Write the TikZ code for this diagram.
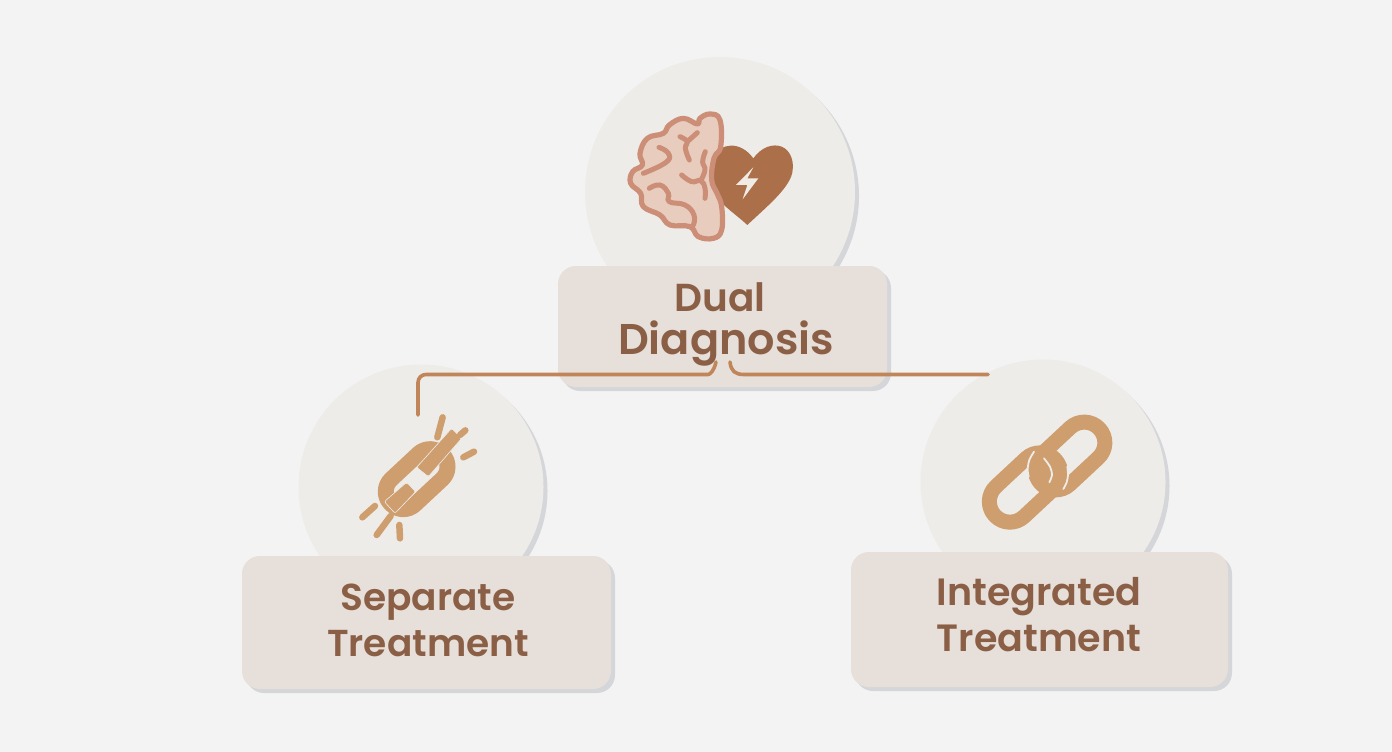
\documentclass[tikz,border=0pt]{standalone}
\usepackage{fontspec}
\setmainfont{Poppins}[BoldFont={Poppins SemiBold}]
\definecolor{bgc}{HTML}{F3F3F3}
\definecolor{shad}{HTML}{D5D6D9}
\definecolor{circ}{HTML}{EEECE9}
\definecolor{boxc}{HTML}{E6DFDA}
\definecolor{txt}{HTML}{8A5F45}
\definecolor{conn}{HTML}{C0865A}
\definecolor{linkc}{HTML}{CE9E6E}
\definecolor{brainf}{HTML}{E8CDBE}
\definecolor{brainl}{HTML}{CC8E76}
\definecolor{heartc}{HTML}{AB7049}
\definecolor{boltc}{HTML}{F1EBE6}
\tikzset{
  disc/.style={circle,fill=circ,draw=none,inner sep=0pt},
  discshadow/.style={circle,fill=shad,draw=none,inner sep=0pt},
  label box/.style={rounded corners=18pt,fill=boxc,draw=none,inner sep=0pt},
  box label/.style={text=txt,font=\fontsize{38}{46}\selectfont\bfseries,align=center,inner sep=0pt},
  box shadow/.style={rounded corners=18pt,fill=shad,draw=none,inner sep=0pt},
  connector/.style={draw=conn,line width=3.6pt,line cap=round,line join=round},
  sulcus/.style={draw=brainl,line width=5pt,line cap=round,line join=round},
  ray/.style={draw=linkc,line width=6.5pt,line cap=round},
  gapline/.style={draw=circ,line width=1.8pt,line cap=round},
}
\begin{document}
\begin{tikzpicture}[x=1pt,y=-1pt]
\useasboundingbox (0,0) rectangle (1392,752);
\fill[bgc] (0,0) rectangle (1392,752);
% shadows and discs
\node[discshadow,minimum size=270pt] (topdiscS) at (724,196) {};
\node[disc,minimum size=270pt] (topdisc) at (720,192) {};
\node[discshadow,minimum size=245pt] (leftdiscS) at (425,491) {};
\node[disc,minimum size=245pt] (leftdisc) at (421,487) {};
\node[discshadow,minimum size=245pt] (rightdiscS) at (1047,486) {};
\node[disc,minimum size=245pt] (rightdisc) at (1043,482) {};
% boxes
\node[box shadow,minimum width=329pt,minimum height=121pt] (topboxS) at (726.5,330.5) {};
\node[label box,minimum width=329pt,minimum height=121pt] (topbox) at (722.5,326.5) {};
\node[box label,font=\fontsize{39}{44}\selectfont\bfseries] (toplabel) at (720,324) {Dual\\[-1pt]{\fontsize{43}{44}\selectfont\bfseries\hspace*{12pt}Diagnosis}};
\node[box shadow,minimum width=369pt,minimum height=133pt] (leftboxS) at (430.5,626.5) {};
\node[label box,minimum width=369pt,minimum height=133pt] (leftbox) at (426.5,622.5) {};
\node[box label,font=\fontsize{37.5}{46}\selectfont\bfseries] (leftlabel) at (428,620) {Separate\\Treatment};
\node[box shadow,minimum width=377pt,minimum height=135pt] (rightboxS) at (1043.5,623.5) {};
\node[label box,minimum width=377pt,minimum height=135pt] (rightbox) at (1039.5,619.5) {};
\node[box label] (rightlabel) at (1039,615) {Integrated\\Treatment};
% connectors
\coordinate (leftend) at (418,415);
\coordinate (lefthub) at (716,362);
\coordinate (righthub) at (730,362);
\coordinate (rightend) at (988,374.5);
\draw[connector,rounded corners=8pt] (leftend) -- (418,374.5) -- (700,374.5) .. controls (710,374.5) and (714,371) .. (lefthub);
\draw[connector] (righthub) .. controls (731,371) and (735,374.5) .. (744,374.5) -- (rightend);
% heart
\begin{scope}[shift={(610,90)},x=0.3333pt,y=-0.3333pt]
\fill[heartc] (430,205) .. controls (455,170) and (490,160) .. (515,170)
  .. controls (540,180) and (552,210) .. (548,240)
  .. controls (545,290) and (470,350) .. (412,405)
  .. controls (380,375) and (340,350) .. (310,310) -- (310,200)
  .. controls (330,160) and (390,150) .. (430,205) -- cycle;
\fill[boltc] (430,232) -- (378,285) -- (412,285) -- (398,328) -- (445,265) -- (412,265) -- cycle;
% brain
\draw[fill=brainf,draw=brainl,line width=5.2pt,line join=round]
  plot[smooth cycle,tension=0.7] coordinates {(330,90) (300,72) (270,85) (262,102) (220,85) (178,105) (160,130) (112,145) (90,190) (97,225) (68,245) (62,280) (92,310) (100,350) (150,375) (180,405) (240,410) (265,440) (310,445) (335,420) (335,350) (322,312) (305,270) (312,205) (332,170)};
\draw[sulcus] plot[smooth,tension=0.8] coordinates {(210,140) (232,155) (226,175) (238,210)};
\draw[sulcus] (232,155) -- (262,128);
\draw[sulcus] plot[smooth,tension=0.8] coordinates {(147,172) (175,190) (168,217) (100,250)};
\draw[sulcus] plot[smooth,tension=0.8] coordinates {(215,255) (245,275) (272,272) (285,295) (285,325)};
\draw[sulcus] plot[smooth,tension=0.8] coordinates {(272,272) (285,240) (278,215) (286,185)};
\draw[sulcus] plot[smooth,tension=0.8] coordinates {(118,295) (150,285) (175,310) (178,335) (225,345) (252,375) (250,405)};
\end{scope}
% integrated chain
\newcommand{\stad}[5]{% x y halflen colour width
  \begin{scope}[shift={(#1,#2)},rotate=43,x=1pt,y=1pt]
  \draw[draw=#4,line width=#5,rounded corners=20.6pt,line join=round] (-#3-20.6,-20.6) rectangle (#3+20.6,20.6);
  \end{scope}}
\stad{1025}{487.5}{20.6}{linkc}{15pt}
\stad{1070}{456}{19.5}{linkc}{15pt}
\begin{scope}[shift={(960,395)},x=0.3333pt,y=-0.3333pt]
\fill[linkc] (265,230) circle[radius=11pt];
\draw[gapline] plot[smooth] coordinates {(222,170) (208,195) (203,223) (206,245)};
\draw[gapline] plot[smooth] coordinates {(322,215) (324,240) (320,262) (310,282)};
\draw[gapline] plot[smooth] coordinates {(252,190) (270,215) (276,240) (268,262)};
\end{scope}
% broken chain
\begin{scope}[shift={(340,360)},x=0.3333pt,y=-0.3333pt]
\begin{scope}[shift={(230,357.5)},rotate=43,x=0.3333pt,y=0.3333pt]
\draw[linkc,line width=16pt,rounded corners=17pt,line join=round] (-107,-52) rectangle (107,52);
\end{scope}
\fill[linkc,draw=circ,line width=0.6pt,rounded corners=2pt] (335,205) -- (352,222) -- (365,235) -- (265,350) -- (230,322) -- cycle;
\fill[linkc,draw=circ,line width=0.6pt,rounded corners=2pt] (200,367) -- (227,395) -- (165,460) -- (133,425) -- cycle;
\draw[ray] (360,225) -- (376,211);
\draw[ray] (308,172) -- (292,232);
\draw[ray] (402,275) -- (370,292);
\draw[ray] (105,438) -- (67,472);
\draw[ray] (152,468) -- (110,525);
\draw[ray] (178,495) -- (180,535);
\end{scope}
\end{tikzpicture}
\end{document}
